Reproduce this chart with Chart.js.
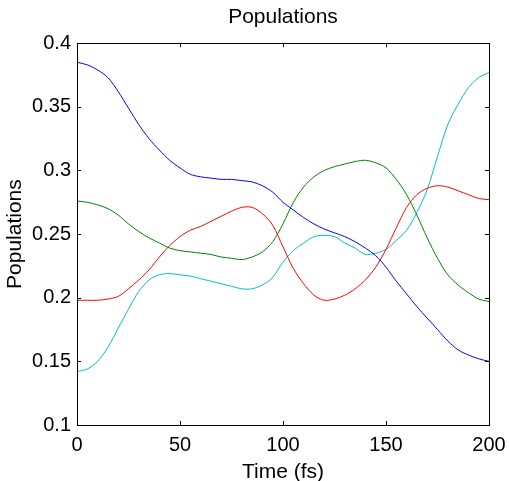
<!DOCTYPE html>
<html>
<head>
<meta charset="utf-8">
<script src="https://cdn.jsdelivr.net/npm/chart.js"></script>
<style>
  html, body { margin: 0; padding: 0; background: #fff; }
  canvas { display: block; }
</style>
</head>
<body>
<canvas id="grafico" width="509" height="481"></canvas>
<script>
// tiempos (fs)
const tiempos = [0, 5, 10, 15, 20, 25, 30, 35, 40, 45, 50, 55, 60, 65, 70, 75, 80, 85, 90, 95, 100,
  105, 110, 115, 120, 125, 130, 135, 140, 145, 150, 155, 160, 165, 170, 175, 180, 185, 190, 195, 200];

// poblaciones
const azul = [0.385, 0.383, 0.379, 0.373, 0.362, 0.349, 0.336, 0.325, 0.316, 0.308, 0.302,
  0.297, 0.295, 0.294, 0.293, 0.293, 0.292, 0.291, 0.288, 0.283, 0.275,
  0.269, 0.263, 0.258, 0.254, 0.251, 0.248, 0.244, 0.239, 0.233, 0.224,
  0.213, 0.203, 0.193, 0.184, 0.175, 0.166, 0.159, 0.155, 0.152, 0.150];
const verde = [0.276, 0.275, 0.273, 0.270, 0.265, 0.258, 0.252, 0.247, 0.243, 0.239, 0.237,
  0.236, 0.235, 0.234, 0.232, 0.231, 0.230, 0.232, 0.236, 0.244, 0.258,
  0.275, 0.287, 0.295, 0.300, 0.303, 0.305, 0.307, 0.308, 0.306, 0.302,
  0.293, 0.281, 0.265, 0.247, 0.231, 0.218, 0.210, 0.204, 0.199, 0.197];
const rojo = [0.198, 0.198, 0.198, 0.199, 0.201, 0.207, 0.214, 0.222, 0.232, 0.241, 0.248,
  0.253, 0.256, 0.260, 0.264, 0.268, 0.271, 0.271, 0.266, 0.257, 0.240,
  0.223, 0.211, 0.202, 0.198, 0.199, 0.202, 0.207, 0.214, 0.224, 0.238,
  0.255, 0.271, 0.281, 0.286, 0.288, 0.287, 0.284, 0.281, 0.278, 0.277];
const cian = [0.142, 0.144, 0.150, 0.161, 0.176, 0.191, 0.205, 0.214, 0.218, 0.219, 0.218,
  0.217, 0.215, 0.213, 0.211, 0.209, 0.207, 0.207, 0.210, 0.216, 0.228,
  0.237, 0.243, 0.248, 0.249, 0.248, 0.243, 0.239, 0.234, 0.235, 0.238,
  0.245, 0.253, 0.267, 0.285, 0.311, 0.336, 0.352, 0.365, 0.373, 0.377];

// marcas de los ejes
const ticksX = [0, 50, 100, 150, 200];
const ticksY = [0.1, 0.15, 0.2, 0.25, 0.3, 0.35, 0.4];

const fuente = "'Liberation Sans', Arial, Helvetica, sans-serif";

function serie(valores, color) {
  return {
    data: tiempos.map((t, i) => ({ x: t, y: valores[i] })),
    borderColor: color,
    borderWidth: 1,
    pointRadius: 0,
    tension: 0.3,
    fill: false
  };
}

// caja completa con marcas hacia dentro, estilo matlab
const cajaMatlab = {
  id: 'cajaMatlab',
  afterDraw(chart) {
    const ctx = chart.ctx;
    const a = chart.chartArea;
    const sx = chart.scales.x, sy = chart.scales.y;
    const largo = 4;
    ctx.save();
    ctx.strokeStyle = '#000';
    ctx.lineWidth = 1;
    ctx.strokeRect(Math.round(a.left) + 0.5, Math.round(a.top) + 0.5,
      Math.round(a.right - a.left), Math.round(a.bottom - a.top));
    ctx.beginPath();
    sx.ticks.forEach(t => {
      const px = Math.round(sx.getPixelForValue(t.value)) + 0.5;
      ctx.moveTo(px, a.bottom); ctx.lineTo(px, a.bottom - largo);
      ctx.moveTo(px, a.top); ctx.lineTo(px, a.top + largo);
    });
    sy.ticks.forEach(t => {
      const py = Math.round(sy.getPixelForValue(t.value)) + 0.5;
      ctx.moveTo(a.left, py); ctx.lineTo(a.left + largo, py);
      ctx.moveTo(a.right, py); ctx.lineTo(a.right - largo, py);
    });
    ctx.stroke();
    ctx.restore();
  }
};

new Chart(document.getElementById('grafico'), {
  type: 'line',
  data: {
    datasets: [
      serie(azul, '#0000ff'),
      serie(verde, '#008000'),
      serie(rojo, '#ff0000'),
      serie(cian, '#00bfbf')
    ]
  },
  options: {
    responsive: false,
    animation: false,
    devicePixelRatio: 1,
    layout: { padding: { top: 0, right: 20, bottom: 0, left: 0 } },
    plugins: {
      legend: { display: false },
      tooltip: { enabled: false },
      title: {
        display: true,
        text: 'Populations',
        fullSize: false,
        color: '#000',
        font: { family: fuente, size: 21, weight: 'normal', lineHeight: 1.2 },
        padding: { top: 5, bottom: 13 }
      }
    },
    scales: {
      x: {
        type: 'linear',
        min: 0,
        max: 200,
        afterBuildTicks: s => { s.ticks = ticksX.map(v => ({ value: v })); },
        afterFit: s => { s.height = 56; s.paddingLeft = 0; s.paddingRight = 0; },
        grid: { display: false, drawTicks: false },
        border: { display: false },
        ticks: {
          color: '#000',
          padding: 8,
          maxRotation: 0,
          font: { family: fuente, size: 20 }
        },
        title: {
          display: true,
          text: 'Time (fs)',
          color: '#000',
          font: { family: fuente, size: 21, lineHeight: 0.8 },
          padding: { top: 0, bottom: 0 }
        }
      },
      y: {
        type: 'linear',
        min: 0.1,
        max: 0.4,
        afterBuildTicks: s => { s.ticks = ticksY.map(v => ({ value: v })); },
        afterFit: s => { s.width = 77; },
        grid: { display: false, drawTicks: false },
        border: { display: false },
        ticks: {
          color: '#000',
          padding: 6,
          font: { family: fuente, size: 20 },
          callback: v => String(v)
        },
        title: {
          display: true,
          text: 'Populations',
          color: '#000',
          font: { family: fuente, size: 21, lineHeight: 1.2 },
          padding: { top: 3, bottom: 0 }
        }
      }
    }
  },
  plugins: [cajaMatlab]
});
</script>
</body>
</html>
